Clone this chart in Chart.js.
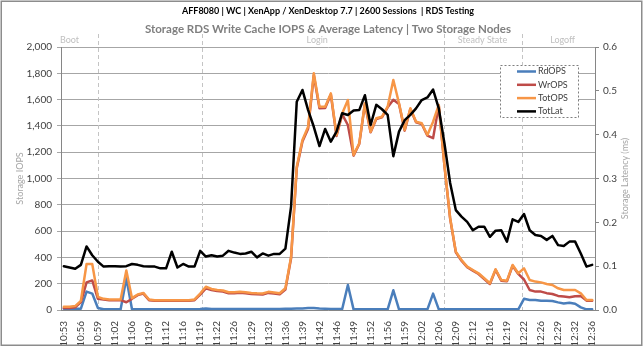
<!DOCTYPE html>
<html lang="en">
<head>
<meta charset="UTF-8">
<title>Storage RDS Write Cache IOPS & Average Latency</title>
<style>
    body { margin: 0; background: #fff; }
    canvas { display: block; }
</style>
</head>
<body>
<canvas id="chart" width="644" height="348"></canvas>

<script src="https://cdn.jsdelivr.net/npm/chart.js@4"></script>
<script>
// x axis: one label every third sample
const tickLabels = ['10:53','10:56','10:59','11:02','11:06','11:09','11:12','11:16','11:19','11:22',
    '11:26','11:29','11:32','11:36','11:39','11:42','11:46','11:49','11:52','11:56',
    '11:59','12:02','12:06','12:09','12:12','12:16','12:19','12:22','12:26','12:29',
    '12:32','12:36'];

const rdOps = [
    10,10,10,10,140,125,15,5,5,5,
    5,241,5,5,5,5,5,5,5,5,
    5,5,5,5,8,12,8,8,8,8,
    8,8,8,8,8,8,8,8,8,10,
    10,12,12,15,15,12,10,8,8,8,
    190,5,5,5,5,5,5,5,150,5,
    5,5,5,5,5,125,5,5,5,5,
    5,5,5,5,5,5,5,5,5,5,
    5,85,76,76,70,70,68,58,50,55,
    48,20,5,5];

const wrOps = [
    15,15,20,60,210,225,85,80,75,75,
    75,59,85,113,125,75,70,70,70,70,
    70,70,70,75,117,165,152,144,140,127,
    127,131,127,122,119,117,130,125,119,155,
    393,1078,1281,1379,1785,1534,1536,1639,1323,1487,
    1407,1174,1262,1567,1351,1453,1465,1541,1599,1567,
    1364,1529,1427,1415,1326,1307,1554,1095,695,439,
    375,325,299,274,236,198,305,223,218,337,
    274,232,152,140,140,128,122,107,102,97,
    104,107,71,71];

const totOps = [
    25,25,30,70,350,350,100,85,80,80,
    80,300,90,118,130,80,75,75,75,75,
    75,75,75,80,125,177,160,152,148,135,
    135,139,135,130,127,125,138,133,127,165,
    403,1090,1293,1394,1800,1546,1546,1647,1331,1495,
    1597,1179,1267,1572,1356,1458,1470,1546,1749,1572,
    1369,1534,1432,1420,1331,1432,1559,1100,700,444,
    380,330,304,279,241,203,310,228,223,342,
    279,317,228,216,210,198,190,165,152,152,
    152,127,76,76];

const totLat = [
    0.100,0.097,0.094,0.103,0.145,0.125,0.110,0.099,0.100,0.100,
    0.099,0.100,0.105,0.103,0.100,0.099,0.099,0.095,0.095,0.133,
    0.097,0.105,0.099,0.099,0.135,0.122,0.125,0.122,0.124,0.135,
    0.131,0.128,0.129,0.133,0.120,0.129,0.124,0.128,0.128,0.140,
    0.236,0.475,0.502,0.456,0.418,0.374,0.413,0.384,0.407,0.449,
    0.445,0.455,0.456,0.490,0.422,0.468,0.458,0.445,0.351,0.407,
    0.433,0.445,0.460,0.479,0.485,0.503,0.460,0.380,0.290,0.228,
    0.213,0.201,0.182,0.190,0.190,0.167,0.181,0.182,0.156,0.207,
    0.201,0.219,0.182,0.171,0.169,0.160,0.169,0.148,0.146,0.156,
    0.156,0.129,0.099,0.103];

// test phases (sample index where the dashed marker sits / where the name is printed)
const phaseNames = ['Boot', 'Login', 'Steady State', 'Logoff'];
const phaseLabelAt = [1, 44.6, 73.7, 87.8];
const phaseLines = [6, 24.3, 67, 80.6];

const labels = rdOps.map((v, i) => i % 3 === 0 ? tickLabels[i / 3] : '');

const FONT = 'Lato';

const decorations = {
    id: 'decorations',
    beforeDatasetsDraw(chart) {
        const { ctx, chartArea, scales: { x } } = chart;
        ctx.save();
        ctx.strokeStyle = '#c4c4c4';
        ctx.lineWidth = 1;
        ctx.setLineDash([4, 3]);
        phaseLines.forEach(v => {
            const px = Math.round(x.getPixelForValue(v)) + 0.5;
            ctx.beginPath();
            ctx.moveTo(px, 34);
            ctx.lineTo(px, chartArea.bottom);
            ctx.stroke();
        });
        ctx.restore();
    },
    afterDraw(chart) {
        const { ctx, chartArea, scales: { x } } = chart;
        const mid = (chartArea.left + chartArea.right) / 2;
        ctx.save();

        // outer frame
        ctx.strokeStyle = '#8c8c8c';
        ctx.lineWidth = 1.5;
        ctx.strokeRect(1.25, 1.25, 640.5, 344);

        // titles
        ctx.textAlign = 'center';
        ctx.textBaseline = 'middle';
        ctx.fillStyle = '#000';
        ctx.font = `bold 9px ${FONT}`;
        ctx.fillText('AFF8080 | WC | XenApp / XenDesktop 7.7 | 2600 Sessions  | RDS Testing', mid, 11);
        ctx.fillStyle = '#7f7f7f';
        ctx.font = `bold 11.5px ${FONT}`;
        ctx.fillText('Storage RDS Write Cache IOPS & Average Latency | Two Storage Nodes', mid, 29);

        // phase names
        ctx.fillStyle = '#c0c0c0';
        ctx.font = `9px ${FONT}`;
        phaseNames.forEach((n, i) => ctx.fillText(n, x.getPixelForValue(phaseLabelAt[i]), 40));

        // axis titles
        ctx.fillStyle = '#a6a6a6';
        ctx.font = `9px ${FONT}`;
        const cy = (chartArea.top + chartArea.bottom) / 2;
        [[20, 'Storage IOPS'], [625, 'Storage Latency (ms)']].forEach(([px, t]) => {
            ctx.save();
            ctx.translate(px, cy);
            ctx.rotate(-Math.PI / 2);
            ctx.fillText(t, 0, 0);
            ctx.restore();
        });

        // legend box
        ctx.fillStyle = '#fff';
        ctx.fillRect(500, 65, 78, 52);
        ctx.strokeStyle = '#7f7f7f';
        ctx.lineWidth = 1;
        ctx.setLineDash([2, 2]);
        ctx.strokeRect(500.5, 65.5, 78, 52);
        ctx.setLineDash([]);
        ctx.textAlign = 'left';
        ctx.font = `9px ${FONT}`;
        chart.data.datasets.forEach((ds, i) => {
            const y = 71.5 + i * 13.3;
            ctx.strokeStyle = ds.borderColor;
            ctx.lineWidth = 2.5;
            ctx.beginPath();
            ctx.moveTo(517, y);
            ctx.lineTo(536, y);
            ctx.stroke();
            ctx.fillStyle = '#404040';
            ctx.fillText(ds.label, 538, y);
        });
        ctx.restore();
    }
};

function build() {
    const line = (label, data, color, axis, order) => ({
        label, data, yAxisID: axis, order,
        borderColor: color, borderWidth: 2.5,
        pointRadius: 0, tension: 0,
        borderJoinStyle: 'round', borderCapStyle: 'round'
    });

    new Chart(document.getElementById('chart'), {
        type: 'line',
        data: {
            labels: labels,
            datasets: [
                line('RdOPS', rdOps, '#4a7ebb', 'y', 3),
                line('WrOPS', wrOps, '#be4b48', 'y', 2),
                line('TotOPS', totOps, '#f79646', 'y', 1),
                line('TotLat', totLat, '#000000', 'y2', 0)
            ]
        },
        options: {
            responsive: false,
            animation: false,
            events: [],
            layout: { padding: { top: 47, left: 0, right: 0, bottom: 0 } },
            plugins: {
                legend: { display: false },
                title: { display: false },
                tooltip: { enabled: false }
            },
            scales: {
                x: {
                    offset: true,
                    afterFit: s => { s.height = 38; },
                    grid: { display: false },
                    border: { display: true, color: '#868686' },
                    ticks: {
                        autoSkip: false,
                        minRotation: 90,
                        maxRotation: 90,
                        padding: 3,
                        color: '#404040',
                        font: { family: FONT, size: 10 }
                    }
                },
                y: {
                    position: 'left',
                    min: 0,
                    max: 2000,
                    afterFit: s => { s.width = 61; },
                    grid: { color: '#a6a6a6', tickLength: 4 },
                    border: { display: true, color: '#868686' },
                    ticks: {
                        stepSize: 200,
                        padding: 5,
                        color: '#404040',
                        font: { family: FONT, size: 10 },
                        callback: v => v.toLocaleString('en-US')
                    }
                },
                y2: {
                    position: 'right',
                    min: 0,
                    max: 0.6,
                    afterFit: s => { s.width = 49; },
                    grid: { drawOnChartArea: false, color: '#868686', tickLength: 4 },
                    border: { display: true, color: '#868686' },
                    ticks: {
                        stepSize: 0.1,
                        padding: 4,
                        color: '#404040',
                        font: { family: FONT, size: 10 },
                        callback: v => v.toFixed(1)
                    }
                }
            }
        },
        plugins: [decorations]
    });
}

Promise.all([
    document.fonts.load(`10px ${FONT}`),
    document.fonts.load(`bold 10px ${FONT}`)
]).then(build, build);
</script>
</body>
</html>
